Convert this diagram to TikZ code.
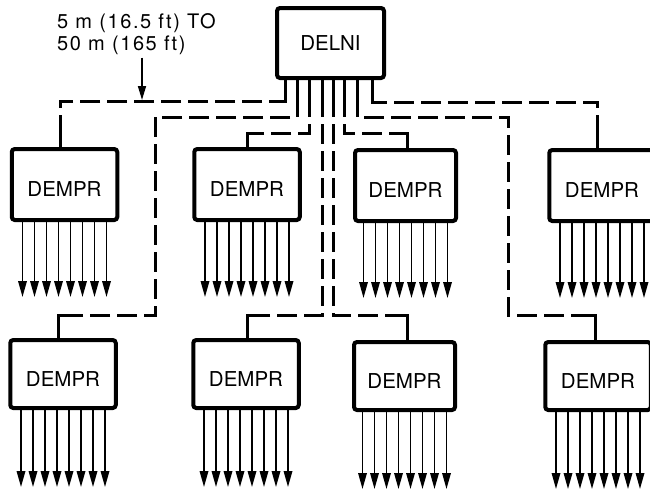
\documentclass[tikz,border=0pt]{standalone}
\usepackage{fontspec}
\setmainfont{TeX Gyre Heros}
\usetikzlibrary{arrows.meta}
\begin{document}
\begin{tikzpicture}[x=1pt,y=-1pt,
  box/.style={draw, line width=4pt, rounded corners=3pt, fill=white,
    minimum width=105.5pt, inner sep=0pt, font=\fontsize{20.5}{24}\selectfont},
  toprow/.style={box, minimum height=71pt, text height=24.7pt, text depth=0pt},
  botrow/.style={box, minimum height=68pt, text height=24.7pt, text depth=0pt},
  tap/.style={line width=3pt},
  cable/.style={line width=3pt, dash pattern=on 20pt off 7pt},
  outarrow/.style={line width=1.7pt, -{Triangle[length=16pt,width=8.5pt]}},
  spanarrow/.style={line width=1.6pt, -{Triangle[length=14pt,width=8pt]}}]
\clip (0,0) rectangle (650,490);
\fill[white] (0,0) rectangle (650,490);

% boxes
\node[box, minimum width=107pt, minimum height=70pt] (delni) at (330.5,43) {DELNI};
\node[toprow] (t1) at (64.5,184.5) {DEMPR};
\node[toprow] (t2) at (247,184.5) {DEMPR};
\node[toprow, minimum width=101pt] (t3) at (405.5,185.5) {DEMPR};
\node[toprow] (t4) at (602,185.5) {DEMPR};
\node[botrow] (b1) at (63,374) {DEMPR};
\node[botrow] (b2) at (246,374) {DEMPR};
\node[botrow, minimum width=101pt] (b3) at (404.5,376) {DEMPR};
\node[botrow] (b4) at (598,376) {DEMPR};

% annotation
\node[font=\fontsize{20}{22}\selectfont\addfontfeature{LetterSpace=8}, align=left,
  anchor=north west, inner sep=0pt] (lab) at (57,13) {5 m (16.5 ft) TO\\50 m (165 ft)};
\coordinate (span) at (142,100);
\draw[spanarrow, shorten <=3pt] (lab.south -| span) -- (span);

% DELNI taps
\draw[tap] ([xshift=-45.5pt]delni.south) -- ++(0,17) coordinate (c1);
\draw[tap] ([xshift=-33.5pt]delni.south) -- ++(0,17) coordinate (c2);
\draw[tap] ([xshift=-21.5pt]delni.south) -- ++(0,17) coordinate (c3);
\draw[tap] ([xshift=-8.5pt]delni.south) -- ++(0,17) coordinate (c4);
\draw[tap] ([xshift=2.5pt]delni.south) -- ++(0,17) coordinate (c5);
\draw[tap] ([xshift=13.5pt]delni.south) -- ++(0,17) coordinate (c6);
\draw[tap] ([xshift=26.5pt]delni.south) -- ++(0,17) coordinate (c7);
\draw[tap] ([xshift=41.5pt]delni.south) -- ++(0,17) coordinate (c8);

% cables
\draw[cable] (c1) -- (285,101) -- (60,101) -- ([xshift=-4.5pt]t1.north);
\draw[cable] (c2) -- (297,117) -- (155,117) -- (155,315) -- (58,315) -- ([xshift=-5pt]b1.north);
\draw[cable] (c3) -- (309,133) -- (247,133) -- (t2.north);
\draw[cable] (c4) -- (322,315) -- (247,315) -- ([xshift=1pt]b2.north);
\draw[cable] (c5) -- (333,315) -- (407,315) -- ([xshift=2.5pt]b3.north);
\draw[cable] (c6) -- (344,133) -- (407,133) -- ([xshift=1.5pt]t3.north);
\draw[cable] (c7) -- (357,117) -- (508,117) -- (508,315) -- (595,315) -- ([xshift=-3pt]b4.north);
\draw[cable] (c8) -- (372,102) -- (597,102) -- ([xshift=-5pt]t4.north);

% solid stubs at the DEMPR ends
\draw[tap] ([xshift=-4.5pt]t1.north) -- ++(0,-15);
\draw[tap] (t2.north) -- (247,133) -- (258,133);
\draw[tap] ([xshift=1.5pt]t3.north) -- (407,133) -- (396,133);
\draw[tap] ([xshift=-5pt]t4.north) -- ++(0,-15);
\draw[tap] ([xshift=-5pt]b1.north) -- (58,315) -- (69,315);
\draw[tap] ([xshift=1pt]b2.north) -- (247,315) -- (258,315);
\draw[tap] ([xshift=2.5pt]b3.north) -- (407,315) -- (396,315);
\draw[tap] ([xshift=-3pt]b4.north) -- (595,315) -- (584,315);

% outputs
\foreach \b in {t1,t2,t3,t4}
  \foreach \k in {-42,-30,-18,-6,6,18,30,42}
    \draw[outarrow] ([xshift=\k pt]\b.south) -- ++(0,75);
\foreach \b in {b1,b2,b3,b4}
  \foreach \k in {-42,-30,-18,-6,6,18,30,42}
    \draw[outarrow] ([xshift=\k pt]\b.south) -- ++(0,77);
\end{tikzpicture}
\end{document}
